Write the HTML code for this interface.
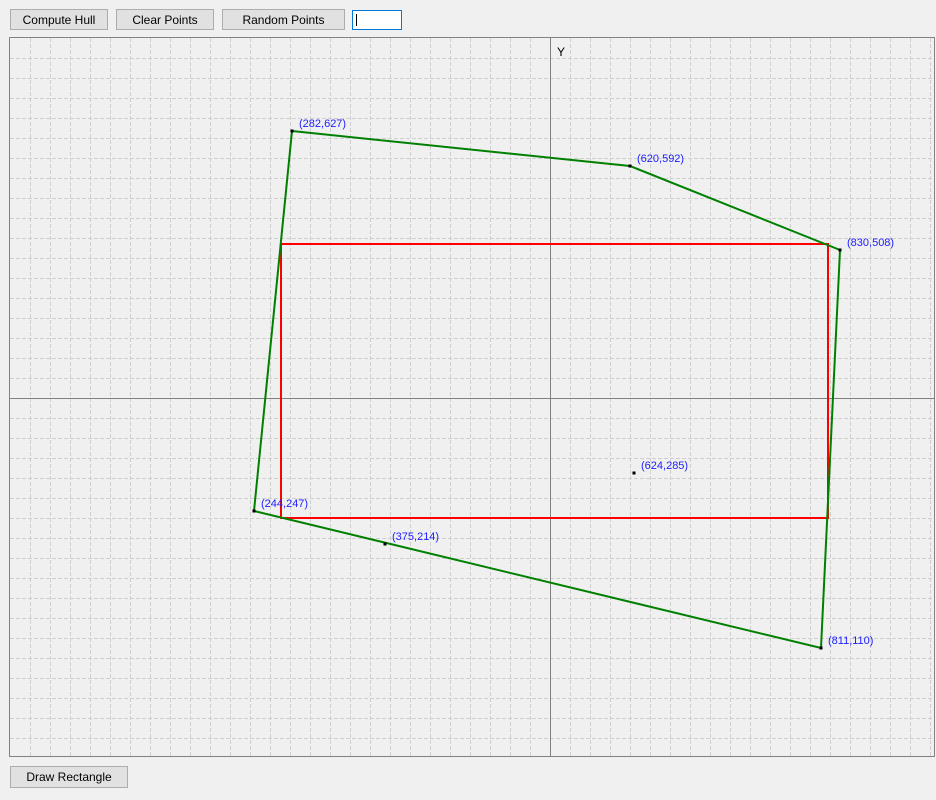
<!DOCTYPE html>
<html><head><meta charset="utf-8"><style>
body{margin:0;width:936px;height:800px;background:#f0f0f0;font-family:"Liberation Sans",sans-serif;position:relative;overflow:hidden}
.btn{position:absolute;height:21px;background:#e1e1e1;border:1px solid #adadad;font-size:12px;line-height:21px;text-align:center;color:#000;box-sizing:border-box}
svg{position:absolute;left:0;top:0}
</style></head><body>
<div class="btn" style="left:10px;top:9px;width:98px">Compute Hull</div>
<div class="btn" style="left:116px;top:9px;width:98px">Clear Points</div>
<div class="btn" style="left:222px;top:9px;width:123px">Random Points</div>
<div style="position:absolute;left:352px;top:10px;width:50px;height:20px;box-sizing:border-box;border:1px solid #0078d7;background:#fff"><div style="position:absolute;left:3px;top:3px;width:1px;height:12px;background:#000"></div></div>
<div class="btn" style="left:10px;top:766px;width:118px;height:22px">Draw Rectangle</div>
<svg id="c" width="936" height="800"></svg>
<script>
const points=[[282,627],[620,592],[830,508],[811,110],[244,247],[375,214],[624,285]];
const hull=[[282,627],[620,592],[830,508],[811,110],[244,247]];
const rect=[271,514,818,240];
const originData=[540,360];
const NS="http://www.w3.org/2000/svg";
const svg=document.getElementById('c');
const px=x=>x+10, py=y=>758-y;
function mk(t,a){const e=document.createElementNS(NS,t);for(const k in a)e.setAttribute(k,a[k]);svg.appendChild(e);return e;}
for(let x=30;x<935;x+=20){const l=mk('line',{x1:x+0.5,y1:38,x2:x+0.5,y2:757,stroke:'#cfcfcf','stroke-dasharray':'4,2'});}
for(let y=58;y<757;y+=20){const l=mk('line',{x1:10,y1:y+0.5,x2:935,y2:y+0.5,stroke:'#cfcfcf','stroke-dasharray':'4,2'});}
const ax=mk('line',{x1:px(originData[0])+0.5,y1:38,x2:px(originData[0])+0.5,y2:757,stroke:'#808080'});

const ay=mk('line',{x1:10,y1:py(originData[1])+0.5,x2:935,y2:py(originData[1])+0.5,stroke:'#808080'});

const yl=mk('text',{x:px(originData[0])+7,y:56,'font-size':12,fill:'#000'});yl.textContent='Y';

const border=mk('rect',{x:9.5,y:37.5,width:925,height:719,fill:'none',stroke:'#828282'});

const r=mk('rect',{x:px(rect[0]),y:py(rect[1]),width:rect[2]-rect[0],height:rect[1]-rect[3],fill:'none',stroke:'#ff0000','stroke-width':2});

const hp=mk('polygon',{points:hull.map(p=>px(p[0])+','+py(p[1])).join(' '),fill:'none',stroke:'#008000','stroke-width':2});

points.forEach(p=>{
 const d=mk('rect',{x:px(p[0])-1.5,y:py(p[1])-1.5,width:3,height:3,fill:'#000'});
 
 const t=mk('text',{x:px(p[0])+7,y:py(p[1])-4,'font-size':11,fill:'#2020ff'});t.textContent='('+p[0]+','+p[1]+')';
 
});
</script>
</body></html>
